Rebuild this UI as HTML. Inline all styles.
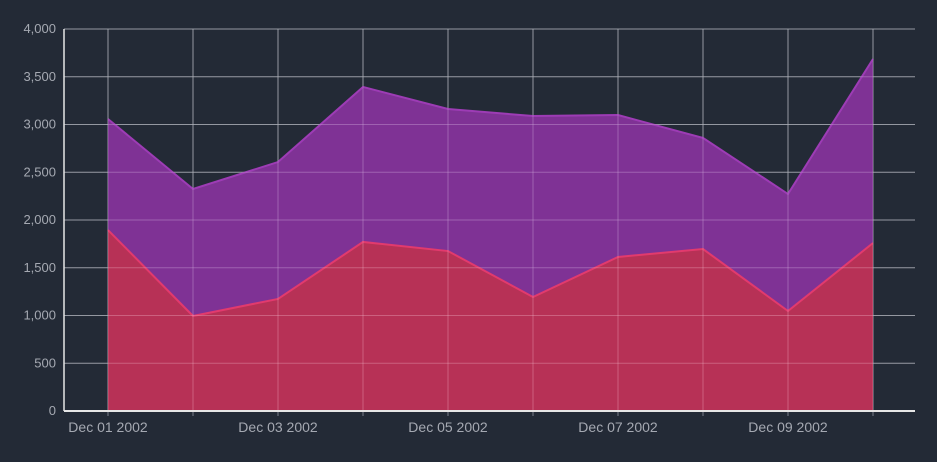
<!DOCTYPE html>
<html><head><meta charset="utf-8"><style>
body{margin:0;background:#232a36;}
svg{display:block;font-family:"Liberation Sans",sans-serif;}
</style></head><body>
<svg id="c" width="937" height="462"></svg>
<script>
const categories=["Dec 01 2002","Dec 02 2002","Dec 03 2002","Dec 04 2002","Dec 05 2002","Dec 06 2002","Dec 07 2002","Dec 08 2002","Dec 09 2002","Dec 10 2002"];
const seriesA=[1895,995,1173,1770,1675,1194,1613,1696,1047,1759];
const seriesB=[1163,1330,1434,1623,1487,1895,1486,1163,1225,1927];
const yTicks=[0,500,1000,1500,2000,2500,3000,3500,4000];
const xLabelIdx=[0,2,4,6,8];
const svg=document.getElementById('c');const NS="http://www.w3.org/2000/svg";
const L=64,R=915,T=29,B=411,ymax=4000;
const xs=i=>108+i*85;const ys=v=>B-(v/ymax)*(B-T);
function mk(t,a,p){const e=document.createElementNS(NS,t);for(const k in a)e.setAttribute(k,a[k]);(p||svg).appendChild(e);return e;}
yTicks.forEach(v=>{const g=mk('line',{x1:L,x2:R,y1:ys(v),y2:ys(v),stroke:'#7a7f8a','stroke-width':1});


const t=mk('text',{x:L-8,y:ys(v)+4,'text-anchor':'end',fill:'#a5a9b2','font-size':13});t.textContent=v.toLocaleString('en-US');

});
categories.forEach((c,i)=>{const g=mk('line',{x1:xs(i),x2:xs(i),y1:T,y2:B+5,stroke:'#7a7f8a','stroke-width':1});

});
const totals=seriesA.map((v,i)=>v+seriesB[i]);
let dB="M"+categories.map((c,i)=>xs(i)+","+ys(totals[i])).join(" L")+" L"+categories.map((c,i)=>xs(i)+","+ys(seriesA[i])).reverse().join(" L")+" Z";
const pb=mk('path',{d:dB,fill:'#8a33a0','fill-opacity':0.9});


const lb=mk('polyline',{points:categories.map((c,i)=>xs(i)+","+ys(totals[i])).join(" "),fill:'none',stroke:'#9d3cb5','stroke-width':2});


let dA="M"+xs(0)+","+ys(0)+" L"+categories.map((c,i)=>xs(i)+","+ys(seriesA[i])).join(" L")+" L"+xs(categories.length-1)+","+ys(0)+" Z";
const pa=mk('path',{d:dA,fill:'#c8325a','fill-opacity':0.9});


const la=mk('polyline',{points:categories.map((c,i)=>xs(i)+","+ys(seriesA[i])).join(" "),fill:'none',stroke:'#e23a6d','stroke-width':2});


categories.forEach((c,i)=>{const g=mk('line',{x1:xs(i),x2:xs(i),y1:T,y2:B,stroke:'#ffffff','stroke-opacity':0.2,'stroke-width':1});

});
yTicks.forEach(v=>{const g=mk('line',{x1:L,x2:R,y1:ys(v),y2:ys(v),stroke:'#ffffff','stroke-opacity':0.2,'stroke-width':1});

});
const ax=mk('line',{x1:L,x2:R,y1:B,y2:B,stroke:'#e6e6e6','stroke-width':2});


const ay=mk('line',{x1:L,x2:L,y1:T,y2:B,stroke:'#e6e6e6','stroke-width':1.5});


xLabelIdx.forEach(i=>{const t=mk('text',{x:xs(i),y:432,'text-anchor':'middle',fill:'#a5a9b2','font-size':14});t.textContent=categories[i];

});
</script>
</body></html>
